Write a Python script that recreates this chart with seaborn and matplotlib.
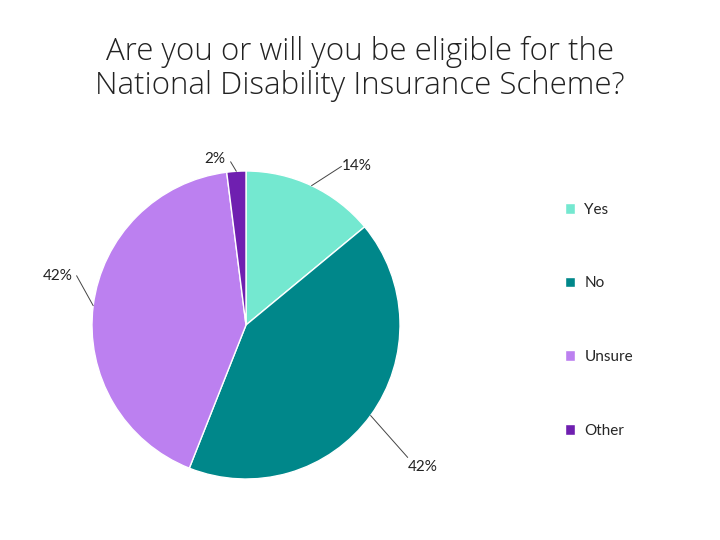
import numpy as np
import matplotlib
matplotlib.use("Agg")
import matplotlib.pyplot as plt
import seaborn as sns
from matplotlib.patches import Patch

labels = ["Yes", "No", "Unsure", "Other"]
values = [14, 42, 42, 2]
colors = ["#74E8D0", "#00878A", "#BC80F0", "#6F1FB0"]

sns.set_style("white")
plt.rcParams["font.family"] = ["Lato", "DejaVu Sans"]

fig = plt.figure(figsize=(7.2, 5.4), dpi=100)
fig.text(0.5, 0.872, "Are you or will you be eligible for the\nNational Disability Insurance Scheme?",
         ha="center", va="center", fontsize=22.5, color="#222222", linespacing=1.1,
         family=["Open Sans", "DejaVu Sans"], fontweight="light")

ax = fig.add_axes([92 / 720, 61 / 540, 308 / 720, 308 / 540])
wedges, _ = ax.pie(values, colors=sns.color_palette(colors), startangle=90, counterclock=False,
                   radius=1, wedgeprops=dict(edgecolor="white", linewidth=1))
ax.set_xlim(-1, 1)
ax.set_ylim(-1, 1)
ax.set_aspect("auto")

# label text positions (in radius units)
text_pos = [(0.62, 1.03), (1.05, -0.92), (-1.32, 0.32), (-0.27, 1.08)]
line_end = [(0.62, 1.03), (1.05, -0.86), (-1.1, 0.32), (-0.1, 1.06)]
for w, v, tp, le in zip(wedges, values, text_pos, line_end):
    ang = np.deg2rad((w.theta1 + w.theta2) / 2)
    p = (np.cos(ang), np.sin(ang))
    ax.plot([p[0], le[0]], [p[1], le[1]], color="#444444", lw=0.7, clip_on=False)
    ax.text(tp[0], tp[1], f"{v}%", fontsize=11, ha="left", va="center", color="#222222")

handles = [Patch(facecolor=c, label=l) for c, l in zip(colors, labels)]
fig.legend(handles=handles, loc="center left", bbox_to_anchor=(0.765, 0.407), frameon=False,
           fontsize=11, labelspacing=3.9, handlelength=0.7, handleheight=0.7, handletextpad=0.6)

fig.savefig("out.png", dpi=100)
